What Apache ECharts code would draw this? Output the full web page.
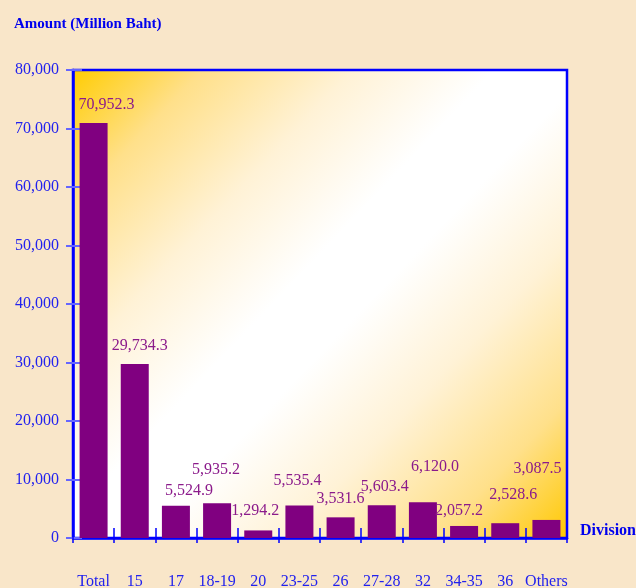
<!DOCTYPE html>
<html><head><meta charset="utf-8">
<script src="https://cdn.jsdelivr.net/npm/echarts@6/dist/echarts.min.js"></script>
<style>html,body{margin:0;padding:0;background:#F9E6C9;}#c{width:636px;height:588px;}</style>
</head><body><div id="c"></div>
<script>
const categories = ['Total','15','17','18-19','20','23-25','26','27-28','32','34-35','36','Others'];
const amounts = [70952.3, 29734.3, 5524.9, 5935.2, 1294.2, 5535.4, 3531.6, 5603.4, 6120.0, 2057.2, 2528.6, 3087.5];
const yTicks = {min: 0, max: 80000, interval: 10000};
const titleText = 'Amount (Million Baht)';
const xName = 'Division';
// label nudges (px) to mimic the staggered value labels
const labelOffsets = [[13,-5],[5,-5],[13,-2],[-1,-20],[-3,-7],[-2,-12],[0,-6],[3,-5],[12,-22],[-5,-2],[8,-15],[-9,-38]];

const serif = '"Liberation Serif","Times New Roman",serif';
const blue = '#0000FF';
const chart = echarts.init(document.getElementById('c'));
const fmt = v => v.toLocaleString('en-US', {minimumFractionDigits: 1, maximumFractionDigits: 1});
chart.setOption({
  backgroundColor: '#F9E6C9',
  animation: false,
  title: {text: titleText, left: 9, top: 12, textStyle: {fontFamily: serif, fontWeight: 'bold', fontSize: 15, color: '#0000EE'}},
  grid: {left: 73, right: 69, top: 70, bottom: 50, outerBoundsMode: 'none', containLabel: false,
    show: true, borderColor: blue, borderWidth: 2.5,
    backgroundColor: new echarts.graphic.LinearGradient(0, 0, 1, 1, [
      {offset: 0, color: '#FFCC00'}, {offset: 0.14, color: '#FFE08A'}, {offset: 0.3, color: '#FFF2D6'},
      {offset: 0.45, color: '#FFFFFF'}, {offset: 0.55, color: '#FFFFFF'},
      {offset: 0.7, color: '#FFF2D6'}, {offset: 0.86, color: '#FFE08A'}, {offset: 1, color: '#FFC800'}])},
  xAxis: [{
    type: 'category', data: categories, position: 'bottom',
    axisLine: {lineStyle: {color: blue, width: 2.5}},
    axisTick: {show: true, interval: 0, length: 5, lineStyle: {color: blue, width: 1.5}},
    axisLabel: {margin: 36, fontFamily: serif, fontSize: 16, color: '#2222EE', interval: 0},
    name: xName, nameLocation: 'end', nameGap: 13,
    nameTextStyle: {fontFamily: serif, fontWeight: 'bold', fontSize: 16, color: '#0000EE', verticalAlign: 'bottom', padding: [0,0,-1,0]}
  }, {
    type: 'category', data: categories, position: 'bottom', offset: 0,
    axisLine: {show: false},
    axisTick: {show: true, interval: 0, inside: true, length: 10, lineStyle: {color: blue, width: 1.5}},
    axisLabel: {show: false}
  }],
  yAxis: [{
    type: 'value', min: yTicks.min, max: yTicks.max, interval: yTicks.interval, position: 'left',
    splitLine: {show: false},
    axisLine: {show: true, lineStyle: {color: blue, width: 2.5}},
    axisTick: {show: true, length: 7, lineStyle: {color: '#6666FF', width: 2}},
    axisLabel: {margin: 14, fontFamily: serif, fontSize: 16, color: '#2222EE', formatter: v => v.toLocaleString('en-US')}
  }, {
    type: 'value', min: yTicks.min, max: yTicks.max, interval: yTicks.interval, position: 'left', offset: 0,
    splitLine: {show: false}, axisLine: {show: false},
    axisTick: {show: true, inside: true, length: 9, lineStyle: {color: '#6666FF', width: 2}},
    axisLabel: {show: false}
  }],
  series: [{
    type: 'bar', xAxisIndex: 0, yAxisIndex: 0, barWidth: 28,
    itemStyle: {color: '#800080'},
    data: amounts.map((v, i) => ({value: v, label: {offset: labelOffsets[i]}})),
    label: {show: true, position: 'top', distance: 5, fontFamily: serif, fontSize: 16, color: '#8B1A8B', formatter: p => fmt(p.value)}
  }]
});
</script></body></html>
